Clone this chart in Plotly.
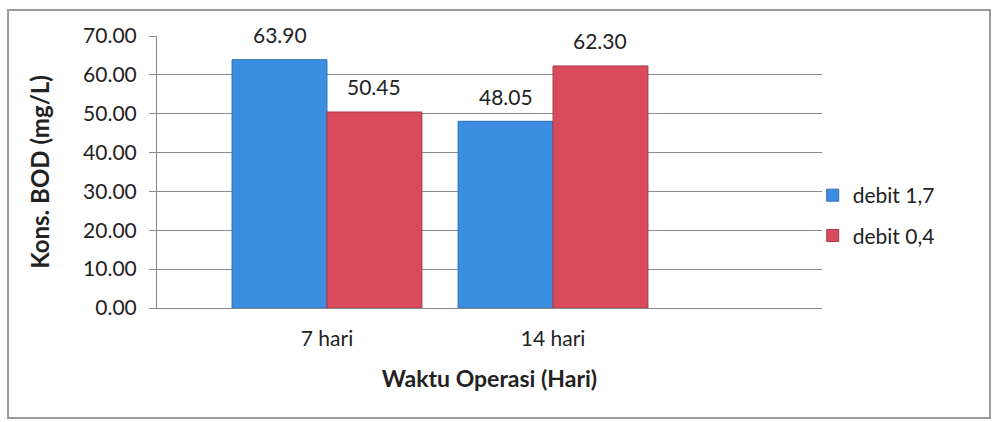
import plotly.graph_objects as go

# data
categories = ["7 hari", "14 hari"]
series_names = ["debit 1,7", "debit 0,4"]
debit_17 = [63.90, 48.05]
debit_04 = [50.45, 62.30]

colors = ["#3b8ee0", "#d94b5c"]
edge_colors = ["#2f6fb5", "#a83a48"]
FONT = "Lato, Calibri, 'Open Sans', sans-serif"

x_pos = list(range(len(categories)))
bar_w = 0.42

fig = go.Figure()
for i, (name, vals) in enumerate(zip(series_names, [debit_17, debit_04])):
    fig.add_trace(go.Bar(
        x=x_pos, y=vals, name=name, width=bar_w,
        marker=dict(color=colors[i], line=dict(color=edge_colors[i], width=1)),
        legendgroup=name,
    ))
    # value labels sit a bit higher than plotly's "outside" text would
    offset = (i - 0.5) * bar_w
    for xi, v in zip(x_pos, vals):
        fig.add_annotation(x=xi + offset, y=v, text=f"{v:.2f}", showarrow=False,
                           yshift=25, font=dict(size=21, color="#222"))

# outer chart border, like the Excel chart frame
fig.add_shape(type="rect", xref="paper", yref="paper",
              x0=-0.224, x1=1.2526, y0=-0.404, y1=1.0956,
              line=dict(color="#9a9a9a", width=2), layer="below")

fig.update_layout(
    width=996, height=422,
    barmode="group", bargap=0.16, bargroupgap=0,
    plot_bgcolor="white", paper_bgcolor="white",
    font=dict(family=FONT, size=21, color="#222"),
    margin=dict(l=157, r=174, t=36, b=114),
    legend=dict(x=0.986, y=0.34, xanchor="left", yanchor="middle",
                bgcolor="rgba(0,0,0,0)",
                font=dict(size=21), tracegroupgap=10, traceorder="grouped"),
    xaxis=dict(
        tickvals=x_pos, ticktext=categories, range=[-0.752, 2.19],
        showgrid=False, showline=True, linecolor="#8a8a94", linewidth=1,
        ticks="", tickfont=dict(size=21), ticklabelstandoff=12,
        title=dict(text="<b>Waktu Operasi (Hari)</b>", font=dict(size=23), standoff=21),
    ),
    yaxis=dict(
        range=[0, 70], dtick=10, tickformat=".2f",
        showgrid=True, gridcolor="#8a8a94", gridwidth=1,
        showline=True, linecolor="#8a8a94", linewidth=1,
        ticks="outside", ticklen=7, tickcolor="#8a8a94",
        tickfont=dict(size=21), ticklabelstandoff=8,
        title=dict(text="<b>Kons. BOD (mg/L)</b>", font=dict(size=24), standoff=26),
    ),
)

# drop the browser's default body margin so the figure sits at the page origin
fig.write_html("out.html", config={"displayModeBar": False},
               post_script="document.body.style.margin='0px';")
